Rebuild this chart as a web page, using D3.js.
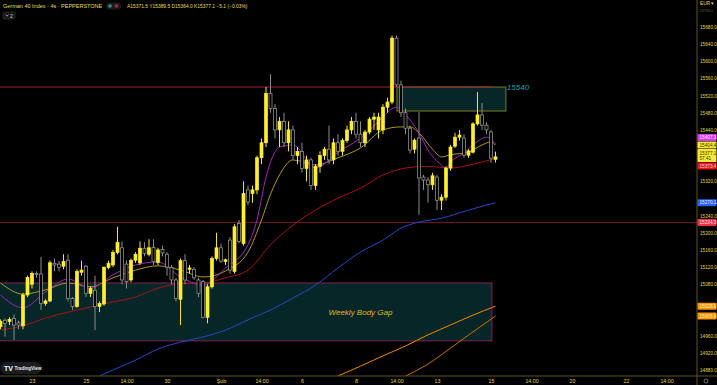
<!DOCTYPE html>
<html><head><meta charset="utf-8">
<script src="https://cdn.jsdelivr.net/npm/d3@7"></script>
<style>body{margin:0;background:#000;overflow:hidden}svg{display:block;font-family:"Liberation Sans",Arial,sans-serif}</style>
</head><body><svg id="c" width="717" height="385"></svg>
<script>
// ---- DATA ----
const opens  = [14981,14996,14993,15000,14990,14983,15055,15080,15105,15104,15035,15041,15129,15127,15122,15136,15047,15028,15108,15122,15059,15066,15028,15034,15119,15125,15154,15165,15127,15090,15136,15130,15164,15150,15166,15131,15161,15150,15119,15090,15045,15135,15115,15115,15090,15086,15003,15074,15140,15165,15133,15183,15110,15222,15175,15300,
15292,15300,15375,15410,15525,15490,15440,15460,15410,15440,15380,15390,15350,15370,15310,15355,15380,15395,15370,15410,15390,15415,15440,15460,15430,15410,15435,15465,15440,15440,15493,15505,15654,15545,15480,15444,15395,15421,15330,15323,15312,15330,15276,15283,15351,15402,15423,15421,15381,15388,15454,15475,15451,15435,15371.5];
const highs  = [14998,15000,15003,15010,14995,15060,15100,15110,15110,15144,15045,15135,15140,15135,15150,15150,15050,15115,15135,15125,15075,15100,15040,15122,15135,15160,15214,15180,15135,15140,15155,15180,15178,15185,15185,15165,15170,15155,15125,15095,15140,15150,15125,15120,15095,15090,15080,15145,15200,15175,15140,15190,15220,15230,15320,15310,
15310,15380,15420,15540,15570,15500,15470,15480,15460,15450,15400,15410,15380,15375,15360,15390,15400,15450,15420,15430,15420,15450,15470,15480,15460,15440,15470,15480,15480,15500,15515,15660,15660,15555,15490,15450,15420,15482,15335,15330,15340,15335,15290,15355,15405,15433,15440,15430,15395,15458,15528,15503,15458,15440,15389.5];
const lows   = [14975,14958,14985,14950,14975,14975,15050,15070,15095,15020,15030,15038,15110,15110,15115,15040,15020,15025,15100,15050,15050,14973,15015,15030,15115,15120,15150,15080,15070,15085,15130,15125,15145,15145,15125,15125,15145,15100,15080,15040,14985,15080,15105,15090,15050,15000,14989,15070,15135,15130,15125,15105,15105,15175,15170,15265,
15270,15290,15360,15400,15480,15420,15400,15400,15390,15370,15360,15340,15320,15300,15300,15340,15370,15360,15360,15380,15380,15410,15430,15420,15400,15400,15430,15440,15420,15430,15480,15500,15540,15470,15430,15385,15385,15242,15300,15270,15300,15253,15253,15275,15345,15398,15415,15375,15375,15385,15450,15440,15430,15363,15364.0];
const closes = [14993,14989,14998,14985,14985,15055,15096,15105,15103,15035,15041,15130,15125,15119,15133,15047,15028,15110,15113,15059,15070,15028,15035,15119,15129,15154,15178,15090,15086,15136,15150,15164,15152,15165,15133,15160,15153,15120,15090,15047,15135,15090,15118,15095,15059,15003,15074,15140,15165,15134,15137,15113,15214,15180,15292,15272,
15300,15375,15410,15525,15490,15440,15460,15410,15440,15380,15390,15350,15370,15310,15355,15380,15395,15370,15410,15390,15415,15440,15460,15430,15410,15435,15465,15470,15470,15493,15505,15654,15545,15480,15444,15393,15416,15328,15323,15312,15333,15276,15283,15351,15400,15423,15428,15381,15391,15454,15475,15451,15440,15374,15377.1];

const purpleIdx = [0,5,10,15,20,25,30,35,40,45,50,55,57,59,60,62,65,70,75,80,85,87,88,89,91,93,95,98,99,100,103,105,108,110];
const purpleVal = [15055,15025,15062,15092,15071,15102,15125,15132,15097,15078,15118,15172,15230,15330,15365,15400,15405,15351,15388,15421,15470,15490,15493,15487,15463,15433,15393,15358,15351,15365,15386,15405,15423,15407.3];
const yellowIdx = [0,5,10,15,20,25,30,35,40,45,50,55,58,60,62,65,70,75,80,85,89,91,93,96,98,100,104,107,109,110];
const yellowVal = [15083,15057,15067,15083,15074,15095,15113,15123,15113,15097,15111,15155,15230,15290,15335,15370,15358,15375,15398,15440,15447,15447,15433,15395,15377,15382,15388,15405,15412,15404.4];
const redIdx = [0,5,10,15,20,25,30,35,40,45,50,55,60,65,70,75,80,85,90,95,100,105,110];
const redVal = [14973,14983,15001,15015,15027,15039,15050,15071,15081,15083,15095,15113,15172,15218,15253,15281,15304,15335,15351,15355,15351,15360,15373.4];
const blueIdx = [22,25,30,35,40,45,50,55,60,65,70,75,80,85,89,93,98,104,110];
const blueVal = [14866,14880,14903,14929,14945,14957,14973,14997,15020,15048,15078,15118,15155,15183,15211,15225,15234,15253,15270.1];
const orange1Idx = [75,80,85,90,95,100,105,110];
const orange1Val = [14866,14889,14913,14936,14962,14985,15008,15028.9];
const orange2Idx = [90,95,100,105,110];
const orange2Val = [14866,14894,14931,14969,15005.9];

const dayTickIdx = [7,19,28,37,49,58,67,79,88,97,109,118,127,139,148];
const dayTickLbl = ["23","25","14:00","30","Şub","14:00","6","8","14:00","13","15","14:00","20","22","14:00"];
const priceTicks = d3.range(14880, 15721, 40);

const resistance = 15540;
const levelLine = 15224.3;
const upperZone = {i0: 88.1, i1: 112.3, top: 15540, bottom: 15484};
const gapZone = {i0: -2, i1: 109.2, top: 15083, bottom: 14948};
const lastPrice = 15377.1;
const countdown = "57:41";
const header = "German 40 Index · 4s · PEPPERSTONE";
const ohlcText = "A15371.5 Y15389.5 D15364.0 K15377.1 −5.1 (−0.03%)";

// ---- CHART ----
const svg = d3.select("#c");
const plotR = 697, plotB = 376;
const x = d3.scaleLinear().domain([0, 1]).range([0.5, 5]);
const y = d3.scaleLinear().domain([14880, 15680]).range([370, 27]);

svg.append("rect").attr("width",717).attr("height",385).attr("fill","#000");
svg.append("defs").append("clipPath").attr("id","clip").append("rect")
  .attr("x",0).attr("y",0).attr("width",plotR).attr("height",plotB);
const plot = svg.append("g").attr("clip-path","url(#clip)");

// zones
plot.append("rect").attr("x", x(gapZone.i0)).attr("y", y(gapZone.top))
  .attr("width", x(gapZone.i1)-x(gapZone.i0)).attr("height", y(gapZone.bottom)-y(gapZone.top))
  .attr("fill","#062628").attr("stroke","#7b2455").attr("stroke-width",1);
plot.append("text").attr("x", x(80)).attr("y", y((gapZone.top+gapZone.bottom)/2)+3)
  .attr("text-anchor","middle").attr("font-size",8).attr("font-style","italic")
  .attr("fill","#e3b62a").text("Weekly Body Gap");

plot.append("rect").attr("x", x(upperZone.i0)).attr("y", y(upperZone.top))
  .attr("width", x(upperZone.i1)-x(upperZone.i0)).attr("height", y(upperZone.bottom)-y(upperZone.top))
  .attr("fill","#062628").attr("stroke","#7d7a1e").attr("stroke-width",1);

// horizontal levels
plot.append("line").attr("x1",0).attr("x2",x(gapZone.i1)).attr("y1",y(resistance)).attr("y2",y(resistance))
  .attr("stroke","#a3203c").attr("stroke-width",1);
plot.append("text").attr("x", x(upperZone.i1)+1).attr("y", y(resistance)+2.5)
  .attr("font-size",8).attr("font-style","italic").attr("fill","#1fa3b5").text(String(resistance));
plot.append("line").attr("x1",0).attr("x2",plotR).attr("y1",y(levelLine)).attr("y2",y(levelLine))
  .attr("stroke","#8e1f3a").attr("stroke-width",0.8);

// moving averages
const line = d3.line().x(d=>x(d[0])).y(d=>y(d[1])).curve(d3.curveMonotoneX);
const mas = [
  [blueIdx, blueVal, "#2747c8"],
  [orange1Idx, orange1Val, "#f08a00"],
  [orange2Idx, orange2Val, "#c77000"],
  [redIdx, redVal, "#a51414"],
  [yellowIdx, yellowVal, "#a89a22"],
  [purpleIdx, purpleVal, "#9b27b5"]
];
mas.forEach(([ix, v, c]) => {
  plot.append("path").datum(ix.map((i,k)=>[i, v[k]])).attr("d", line)
    .attr("fill","none").attr("stroke", c).attr("stroke-width",1);
});

// candles
const candles = d3.range(opens.length).map(i => ({i, o:opens[i], h:highs[i], l:lows[i], c:closes[i]}));
const cg = plot.append("g").selectAll("g").data(candles).join("g");
cg.append("line").attr("x1",d=>x(d.i)).attr("x2",d=>x(d.i))
  .attr("y1",d=>y(d.h)).attr("y2",d=>y(d.l))
  .attr("stroke",d=>d.c>=d.o?"#f5e52a":"#8d8d8d").attr("stroke-width",1);
cg.append("rect").attr("x",d=>x(d.i)-1.5).attr("width",3)
  .attr("y",d=>y(Math.max(d.o,d.c)))
  .attr("height",d=>Math.max(0.8, Math.abs(y(d.o)-y(d.c))))
  .attr("fill",d=>d.c>=d.o?"#ffee33":"#000")
  .attr("stroke",d=>d.c>=d.o?"#ffee33":"#a0a0a0").attr("stroke-width",0.7);

// price labels on the scale (positions resolved before drawing ticks)
const labels = [
  {v:15407.3, bg:"#d83af0", fg:"#ffe6ff", h:7},
  {v:15404.4, bg:"#f7e83a", fg:"#3a3500", h:7},
  {v:lastPrice, bg:"#f7e83a", fg:"#3a3500", h:13, sub:countdown},
  {v:15373.4, bg:"#e8141b", fg:"#ffd6d6", h:7},
  {v:15270.1, bg:"#2962ff", fg:"#e6ecff", h:7},
  {v:levelLine, bg:"#ef2f48", fg:"#ffe0e4", h:7},
  {v:15028.9, bg:"#f59300", fg:"#fff1c0", h:7},
  {v:15005.9, bg:"#f59300", fg:"#fff1c0", h:7}
];
labels.forEach(l => l.cy = y(l.v));
labels.sort((a,b)=>a.cy-b.cy);
for (let it=0; it<80; it++) {
  for (let k=1; k<labels.length; k++) {
    const a = labels[k-1], b = labels[k];
    const need = (a.h+b.h)/2 + 0.5;
    const gap = b.cy - a.cy;
    if (gap < need) { const d = (need-gap)/2; a.cy -= d; b.cy += d; }
  }
}

// axes
const axisCol = "#5b5520", txtCol = "#e2d84a";
const xAxis = svg.append("g").attr("transform",`translate(0,${plotB})`)
  .call(d3.axisBottom(x).tickValues(dayTickIdx).tickFormat((d,k)=>dayTickLbl[k]).tickSize(0).tickPadding(3));
xAxis.select(".domain").attr("d",`M0,0H717`).attr("stroke",axisCol);
xAxis.selectAll("text").attr("fill",txtCol).attr("font-size",5.3).attr("font-family","Liberation Sans, Arial");

const covered = v => labels.some(l => Math.abs(y(v)-l.cy) < l.h/2 + 2.5);
const yAxis = svg.append("g").attr("transform",`translate(${plotR},0)`)
  .call(d3.axisRight(y).tickValues(priceTicks.filter(v => !covered(v))).tickFormat(d=>d.toFixed(1)).tickSize(0).tickPadding(3));
yAxis.select(".domain").attr("d","M0,0V385").attr("stroke",axisCol);
yAxis.selectAll("text").attr("fill",txtCol).attr("font-family","Liberation Sans, Arial")
  .attr("opacity", d => d > 15700 ? 0.45 : 1).attr("font-size", d => d > 15700 ? 3.6 : 4.7);

const lg = svg.append("g").selectAll("g").data(labels).join("g");
lg.append("rect").attr("x",plotR+0.5).attr("width",19).attr("y",d=>d.cy-d.h/2).attr("height",d=>d.h)
  .attr("fill",d=>d.bg).attr("rx",0.8);
lg.append("text").attr("x",plotR+2.5).attr("y",d=>d.sub? d.cy-1 : d.cy+1.7)
  .attr("font-size",4.7).attr("fill",d=>d.fg).text(d=>d.v.toFixed(1));
lg.filter(d=>d.sub).append("text").attr("x",plotR+2.5).attr("y",d=>d.cy+4.6)
  .attr("font-size",4.7).attr("fill",d=>d.fg).text(d=>d.sub);

// header
svg.append("text").attr("x",3).attr("y",8).attr("font-size",5.5).attr("fill","#e8dc60").text(header);
const pill = svg.append("g");
pill.append("rect").attr("x",106).attr("y",2.5).attr("width",15).attr("height",7).attr("rx",3.5).attr("fill","#1a1a1a");
pill.append("circle").attr("cx",110).attr("cy",6).attr("r",1.8).attr("fill","#1a9e8a");
pill.append("circle").attr("cx",116.5).attr("cy",6).attr("r",1.8).attr("fill","#a0284c");
svg.append("text").attr("x",127).attr("y",8).attr("font-size",4.9).attr("fill","#e8dc60").text(ohlcText);
svg.append("rect").attr("x",3).attr("y",12).attr("width",12).attr("height",7).attr("rx",1.5)
  .attr("fill","#161616").attr("stroke","#3a3a3a").attr("stroke-width",0.6);
svg.append("path").attr("d","M5.5,14.5 L7,16.2 L8.5,14.5").attr("fill","none").attr("stroke","#d0d0d0").attr("stroke-width",0.7);
svg.append("text").attr("x",10).attr("y",17.6).attr("font-size",5).attr("fill","#d0d0d0").text("2");

// currency
svg.append("text").attr("x",700).attr("y",5).attr("font-size",4.8).attr("fill","#e8dc60").text("EUR ▾");

// TradingView badge
const tv = svg.append("g");
tv.append("rect").attr("x",0.5).attr("y",362).attr("width",41).attr("height",12).attr("rx",6).attr("fill","#1b1b22");
tv.append("text").attr("x",4).attr("y",370.5).attr("font-size",7).attr("font-weight","bold").attr("fill","#fff").text("TV");
tv.append("text").attr("x",14.5).attr("y",370).attr("font-size",4.6).attr("font-weight","bold").attr("fill","#e8e8e8").text("TradingView");

// gear
svg.append("circle").attr("cx",706).attr("cy",381).attr("r",2).attr("fill","none").attr("stroke","#8a8a8a").attr("stroke-width",0.8);
</script>
</body></html>
